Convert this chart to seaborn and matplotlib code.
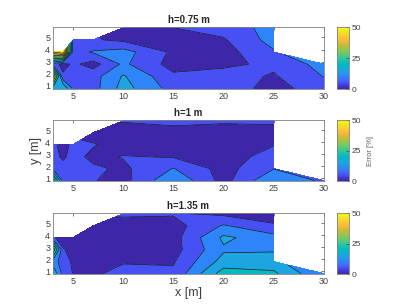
import numpy as np
import matplotlib
matplotlib.use("Agg")
import matplotlib.pyplot as plt
import seaborn as sns
from matplotlib.colors import LinearSegmentedColormap

# grid of measurement points
x = [3, 4, 5, 7, 10, 15, 20, 25, 30]
y = [0.8, 1.8, 2.8, 3.8, 4.8, 5.8]
nan = np.nan

# error [%] per height, rows = y (bottom to top), cols = x
err_075 = [
    [18, 20, 9, 8, 17, 8, 8, 3, 8],
    [38, 6, 7, 8, 15.5, 6, 7, 4.5, 10.2],
    [8, 3, 6, 3, 11, 3, 4, 6, 12],
    [45, 50, 8, 10.5, 12, 4, 3, 9.5, nan],
    [nan, nan, 8, 5.5, 4, 3, 4.5, 12, nan],
    [nan, nan, nan, nan, 3, 5, 7, 12, nan],
]
err_100 = [
    [30, 8, 7, 5.3, 3, 14.5, 3, 14.5, 9],
    [8, 7, 7, 6, 4, 10.2, 3, 9.8, nan],
    [7, 4, 7, 3.5, 5.3, 4.5, 2, 7.5, nan],
    [7, 2, 7, 5.5, 2, 2, 2, 4.7, nan],
    [nan, nan, nan, 2, 2, 3, 2, 3, nan],
    [nan, nan, nan, nan, 5.5, 6.5, 6, 6, nan],
]
err_135 = [
    [20, 8, 4.8, 4, 7, 6, 22.5, 21, 10],
    [12, 8, 4, 3, 4.5, 4.5, 17, 17, nan],
    [30, 5.5, 3, 2, 2, 3, 14.3, 14.5, nan],
    [6, 2, 2, 2, 2, 3, 16, 12, nan],
    [nan, nan, nan, 2, 2.5, 3, 10.5, 5.5, nan],
    [nan, nan, nan, nan, 6, 5.5, 4, 3, nan],
]
titles = ["h=0.75 m", "h=1 m", "h=1.35 m"]
levels = np.arange(0, 55, 5)

parula_pts = [
    (0.00, (0.2422, 0.1504, 0.6603)), (0.05, (0.2706, 0.2147, 0.8360)),
    (0.10, (0.2783, 0.3200, 0.9580)), (0.15, (0.2520, 0.4290, 0.9950)),
    (0.20, (0.1820, 0.5180, 0.9750)), (0.25, (0.1530, 0.5900, 0.9220)),
    (0.30, (0.1100, 0.6500, 0.8800)), (0.35, (0.0450, 0.6950, 0.8300)),
    (0.40, (0.0200, 0.7250, 0.7650)), (0.45, (0.1000, 0.7550, 0.6900)),
    (0.50, (0.2160, 0.7840, 0.5920)), (0.60, (0.4880, 0.8000, 0.3600)),
    (0.70, (0.7500, 0.7400, 0.2300)), (0.75, (0.8700, 0.7300, 0.2100)),
    (0.80, (0.9900, 0.7300, 0.2400)), (0.85, (0.9950, 0.7900, 0.2000)),
    (0.90, (0.9600, 0.8600, 0.1600)), (1.00, (0.9769, 0.9839, 0.0805)),
]
parula = LinearSegmentedColormap.from_list("parula", parula_pts)

sns.set_theme(style="white")
plt.rcParams['font.family'] = ['Liberation Sans', 'DejaVu Sans']

fig = plt.figure(figsize=(4.11, 3.08), dpi=100)
boxes = [(0.711, 0.201), (0.412, 0.198), (0.110, 0.198)]
X, Y = np.meshgrid(x, y)
band_colors = [parula(l / 50) for l in levels[:-1]]

for k, (data, title) in enumerate(zip([err_075, err_100, err_135], titles)):
    bot, h = boxes[k]
    ax = fig.add_axes([0.129, bot, 0.659, h])
    Z = np.ma.masked_invalid(np.array(data, dtype=float))
    ax.contourf(X, Y, Z, levels=levels, colors=band_colors)
    ax.contour(X, Y, Z, levels=levels, colors='k', linewidths=0.5)
    ax.set_xlim(3, 30)
    ax.set_ylim(0.75, 5.85)
    ax.set_xticks([5, 10, 15, 20, 25, 30])
    ax.set_yticks([1, 2, 3, 4, 5])
    ax.tick_params(direction='in', length=2, width=0.5, labelsize=6.5,
                   colors='#404040', top=True, right=True, pad=2)
    for s in ax.spines.values():
        s.set_color('#808080')
        s.set_linewidth(0.6)
    ax.set_title(title, fontsize=7, fontweight='bold', pad=3)
    if k == 1:
        ax.set_ylabel("y [m]", fontsize=9, color='#404040', labelpad=2)
    if k == 2:
        ax.set_xlabel("x [m]", fontsize=9, color='#404040', labelpad=1)

    cax = fig.add_axes([0.820, bot, 0.029, h])
    grad = np.linspace(0, 50, 256).reshape(-1, 1)
    cax.imshow(grad, aspect='auto', origin='lower', cmap=parula,
               extent=[0, 1, 0, 50], vmin=0, vmax=50)
    cax.set_xticks([])
    cax.yaxis.tick_right()
    cax.set_yticks([0, 25, 50])
    cax.tick_params(direction='in', length=2, width=0.5, labelsize=6,
                    colors='#404040', pad=2)
    for s in cax.spines.values():
        s.set_color('#808080')
        s.set_linewidth(0.6)
    if k == 1:
        cax.yaxis.set_label_position('right')
        cax.set_ylabel("Error [%]", fontsize=5.5, color='#606060', labelpad=4)

fig.savefig("out.png", dpi=100)
